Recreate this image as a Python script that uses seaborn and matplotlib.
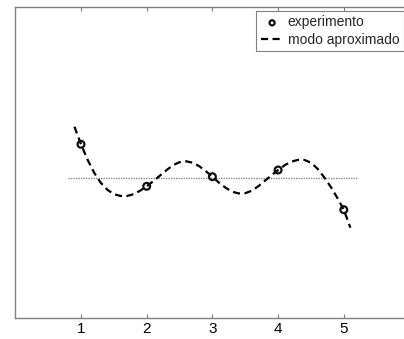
import matplotlib
matplotlib.use("Agg")
import matplotlib.pyplot as plt
import seaborn as sns
import pandas as pd

# experimental points
exp_x = [1, 2, 3, 4, 5]
exp_y = [0.334, -0.086, 0.01, 0.077, -0.32]

# approximated mode (curve)
mode_x = [0.9, 1.0, 1.1, 1.2, 1.3, 1.4, 1.5, 1.6, 1.7, 1.8, 1.9, 2.0, 2.1, 2.2,
          2.3, 2.4, 2.5, 2.6, 2.7, 2.8, 2.9, 3.0, 3.1, 3.2, 3.3, 3.4, 3.5, 3.6,
          3.7, 3.8, 3.9, 4.0, 4.1, 4.2, 4.3, 4.4, 4.5, 4.6, 4.7, 4.8, 4.9, 5.0, 5.1]
mode_y = [0.51, 0.334, 0.18, 0.05, -0.05, -0.12, -0.165, -0.182, -0.183, -0.165,
          -0.13, -0.086, -0.035, 0.02, 0.075, 0.125, 0.155, 0.164, 0.15, 0.115,
          0.065, 0.01, -0.05, -0.10, -0.14, -0.157, -0.155, -0.13, -0.085, -0.03,
          0.025, 0.077, 0.125, 0.16, 0.178, 0.178, 0.15, 0.09, 0.005, -0.09,
          -0.20, -0.32, -0.50]

# reference (equilibrium) line
ref_x = [0.8, 5.2]
ref_y = [0.0, 0.0]

xticks = [1, 2, 3, 4, 5]
xtick_labels = ["1", "2", "3", "4", "5"]

sns.set_style("white")
plt.rcParams['font.family'] = ['Liberation Sans', 'DejaVu Sans']

fig = plt.figure(figsize=(4.04, 3.39), dpi=100)
ax = fig.add_axes([15.3 / 404, (339 - 317.7) / 339, (409.5 - 15.3) / 404, 311 / 339])

df_mode = pd.DataFrame({"x": mode_x, "y": mode_y})
df_exp = pd.DataFrame({"x": exp_x, "y": exp_y})
df_ref = pd.DataFrame({"x": ref_x, "y": ref_y})

sns.lineplot(data=df_ref, x="x", y="y", ax=ax, color="#8a8a8a", linewidth=1.0,
             linestyle=(0, (1, 0.8)), label="_nolegend_")
sns.lineplot(data=df_mode, x="x", y="y", ax=ax, color="black", linewidth=1.6,
             linestyle=(0, (3.2, 2)), label="modo aproximado", sort=False)
sns.scatterplot(data=df_exp, x="x", y="y", ax=ax, marker="o", s=24,
                facecolor="none", edgecolor="#111111", linewidth=1.6,
                label="experimento", zorder=5)

ax.set_xlim(0, 6)
ax.set_ylim(-1.40, 1.71)
ax.set_xticks(xticks)
ax.set_xticklabels(xtick_labels)
ax.set_yticks([])
ax.set_xlabel("")
ax.set_ylabel("")

for sp in ax.spines.values():
    sp.set_color("#808080")
    sp.set_linewidth(1.0)
ax.spines["right"].set_visible(False)

ax.tick_params(axis="x", direction="in", length=3, width=0.8, color="#808080",
               top=True, bottom=True, labelsize=11, pad=3, labelcolor="black")

handles, labels = ax.get_legend_handles_labels()
order = [labels.index("experimento"), labels.index("modo aproximado")]
leg = ax.legend([handles[i] for i in order], [labels[i] for i in order],
                loc="upper right", bbox_to_anchor=(403.5 / 404, (339 - 11.3) / 339),
                bbox_transform=fig.transFigure, fontsize=10, frameon=True,
                fancybox=False, edgecolor="#808080", framealpha=1,
                handlelength=1.65, handletextpad=0.3, borderpad=0.3,
                labelspacing=0.25, borderaxespad=0, markerscale=0.75)
leg.get_frame().set_linewidth(0.8)

fig.savefig("out.png", dpi=100)
